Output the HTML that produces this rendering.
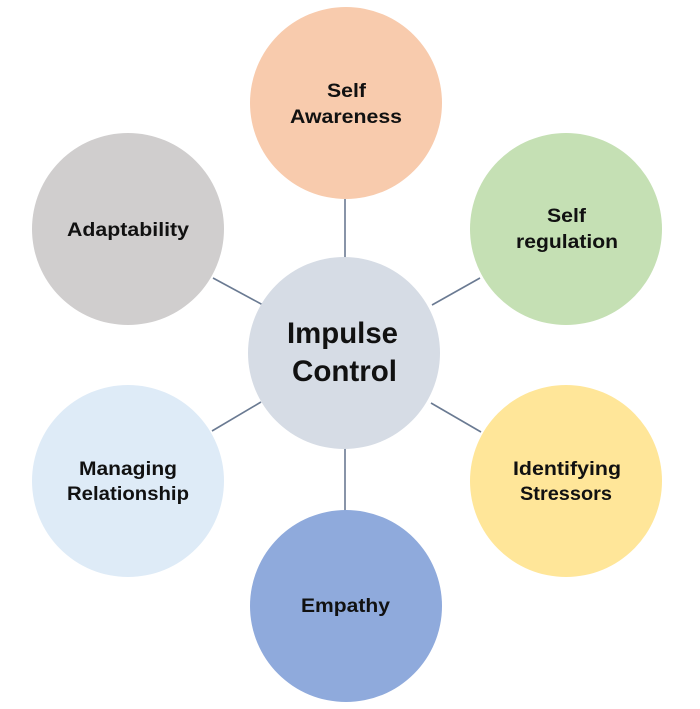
<!DOCTYPE html>
<html><head><meta charset="utf-8"><style>
html,body{margin:0;padding:0;background:#fff;}
svg{display:block;}
text{font-family:"Liberation Sans",sans-serif;font-weight:bold;fill:#111;}
</style></head><body>
<svg width="700" height="709" viewBox="0 0 700 709" xmlns="http://www.w3.org/2000/svg">
<g stroke="#6a7a92" stroke-width="1.6">
<line x1="345" y1="199" x2="345" y2="259"/>
<line x1="345" y1="448" x2="345" y2="511"/>
<line x1="213" y1="278" x2="263" y2="305"/>
<line x1="432" y1="305" x2="480" y2="278"/>
<line x1="212" y1="431" x2="261" y2="402"/>
<line x1="431" y1="403" x2="481" y2="432"/>
</g>
<circle cx="346" cy="103" r="96" fill="#F8CBAD"/>
<circle cx="566" cy="229" r="96" fill="#C5E0B4"/>
<circle cx="128" cy="229" r="96" fill="#D0CECE"/>
<circle cx="344" cy="353" r="96" fill="#D6DCE5"/>
<circle cx="128" cy="481" r="96" fill="#DEEBF7"/>
<circle cx="566" cy="481" r="96" fill="#FFE699"/>
<circle cx="346" cy="606" r="96" fill="#8FAADC"/>
<g font-size="19.5">
<text x="327" y="97" textLength="39" lengthAdjust="spacingAndGlyphs">Self</text>
<text x="290" y="123" textLength="112" lengthAdjust="spacingAndGlyphs">Awareness</text>
<text x="547" y="222" textLength="39" lengthAdjust="spacingAndGlyphs">Self</text>
<text x="516" y="248" textLength="102" lengthAdjust="spacingAndGlyphs">regulation</text>
<text x="67" y="236" textLength="122" lengthAdjust="spacingAndGlyphs">Adaptability</text>
<text x="79" y="475" textLength="98" lengthAdjust="spacingAndGlyphs">Managing</text>
<text x="67" y="500" textLength="122" lengthAdjust="spacingAndGlyphs">Relationship</text>
<text x="513" y="475" textLength="108" lengthAdjust="spacingAndGlyphs">Identifying</text>
<text x="520" y="500" textLength="92" lengthAdjust="spacingAndGlyphs">Stressors</text>
<text x="301" y="612" textLength="89" lengthAdjust="spacingAndGlyphs">Empathy</text>
</g>
<g font-size="30">
<text x="287" y="343" textLength="111" lengthAdjust="spacingAndGlyphs">Impulse</text>
<text x="292" y="381" textLength="105" lengthAdjust="spacingAndGlyphs">Control</text>
</g>
</svg>
</body></html>
